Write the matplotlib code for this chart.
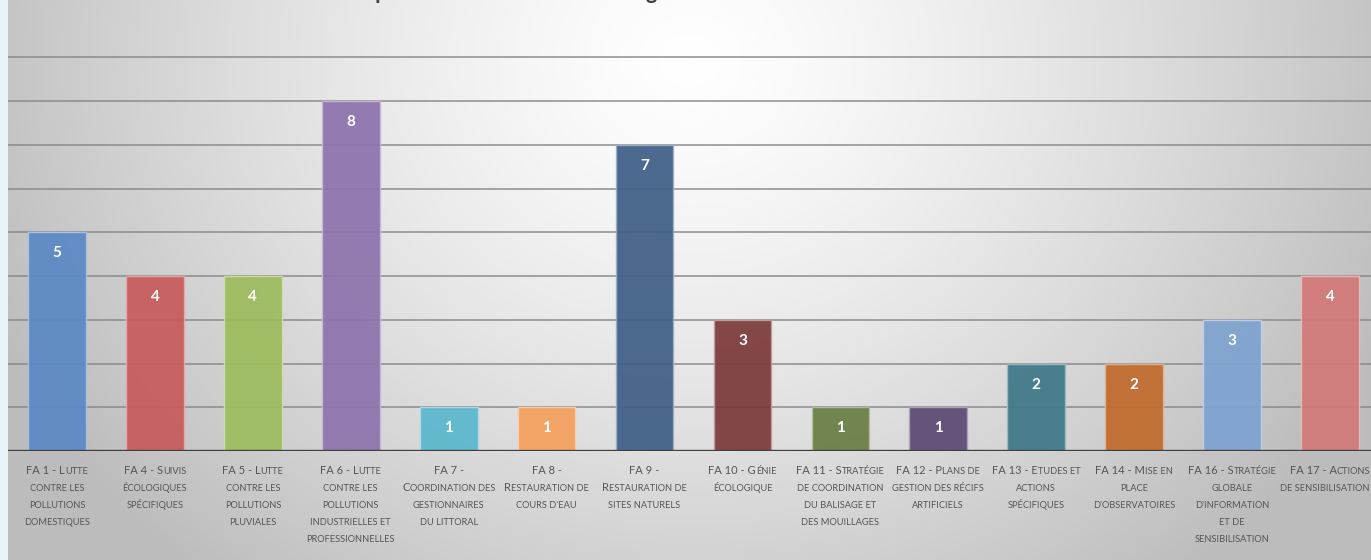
import numpy as np
import matplotlib
matplotlib.use("Agg")
import matplotlib.pyplot as plt
from matplotlib.transforms import IdentityTransform
from matplotlib.font_manager import FontProperties
import matplotlib.colors as mcolors

# ---------------- data ----------------
categories = [
    ["FA 1 - Lutte", "contre les", "pollutions", "domestiques"],
    ["FA 4 - Suivis", "écologiques", "spécifiques"],
    ["FA 5 - Lutte", "contre les", "pollutions", "pluviales"],
    ["FA 6 - Lutte", "contre les", "pollutions", "industrielles et", "professionnelles"],
    ["FA 7 -", "Coordination des", "gestionnaires", "du littoral"],
    ["FA 8 -", "Restauration de", "cours d'eau"],
    ["FA 9 -", "Restauration de", "sites naturels"],
    ["FA 10 - Génie", "écologique"],
    ["FA 11 - Stratégie", "de coordination", "du balisage et", "des mouillages"],
    ["FA 12 - Plans de", "gestion des récifs", "artificiels"],
    ["FA 13 - Etudes et", "actions", "spécifiques"],
    ["FA 14 - Mise en", "place", "d'observatoires"],
    ["FA 16 - Stratégie", "globale", "d'information", "et de", "sensibilisation"],
    ["FA 17 - Actions", "de sensibilisation"],
]
values = [5, 4, 4, 8, 1, 1, 7, 3, 1, 1, 2, 2, 3, 4]
colors = ["#5b89c4", "#c85b5b", "#9cbc5c", "#8d72ac", "#5ab7cc", "#f4a05e", "#3f5e87",
          "#7c3a3a", "#687e45", "#5c4a72", "#3e7888", "#c06a2b", "#7ea2cf", "#d27878"]
y_ticks = list(range(0, 10))
title = "Répartition des actions des usagers en 2017"

# ---------------- figure ----------------
W, H = 1371, 560
DPI = 100
fig = plt.figure(figsize=(W / DPI, H / DPI), dpi=DPI)
FONT = ["Lato", "DejaVu Sans"]

# background gradient
bg = fig.add_axes([0, 0, 1, 1], zorder=-10)
xx, yy = np.meshgrid(np.arange(W), np.arange(H))
r = np.sqrt(((xx - 690) / 720.0) ** 2 + ((yy - 60) / 640.0) ** 2)
g = np.clip(255 - 62 * r ** 1.3, 188, 255) / 255.0
img = np.dstack([g, g, g])
img[:, :8] = [0.91, 0.96, 0.97]
bg.imshow(img, aspect="auto", interpolation="bilinear")
bg.axis("off")

# main axes
ax_left, ax_right, ax_top, ax_bottom = 8, 1379, 56, 451
ax = fig.add_axes([ax_left / W, (H - ax_bottom) / H, (ax_right - ax_left) / W,
                   (ax_bottom - ax_top) / H])
ax.patch.set_alpha(0)
x = np.arange(len(values))
edge = [mcolors.to_rgba(np.array(mcolors.to_rgb(c)) * 0.5 + 0.5, 0.9) for c in colors]
ax.bar(x, values, width=0.59, color=colors, alpha=0.93, edgecolor=edge, linewidth=1.0, zorder=2)
ax.set_xlim(-0.5, len(values) - 0.5)
ax.set_ylim(0, 9.03)
ax.set_yticks(y_ticks)
ax.yaxis.grid(True, color="#858585", linewidth=1.2, alpha=0.85)
ax.set_axisbelow(True)
ax.tick_params(left=False, bottom=False, labelleft=False, labelbottom=False)
for s in ax.spines.values():
    s.set_visible(False)
ax.axhline(0, color="#3f3f3f", linewidth=2.4, zorder=3)

for xi, v in zip(x, values):
    ax.annotate(str(v), (xi, v), xytext=(0, -21), textcoords="offset pixels",
                ha="center", va="center", color="white", fontweight="bold",
                fontsize=11, family=FONT, zorder=4)

# title (mostly above the visible area, as in the reference)
fig.text(560 / W, 1.0 + 1.0 / H, title, ha="center", va="baseline", fontsize=15.5,
         fontweight="bold", color="#404040", family=FONT)

# small-caps category labels
renderer = fig.canvas.get_renderer()
prop_big = FontProperties(family=FONT, size=8.0)
prop_small = FontProperties(family=FONT, size=6.7)
label_color = "#555555"


def runs_of(line):
    runs = []
    cur_big = False
    for ch in line:
        if ch.isupper() or ch.isdigit():
            big = True
        elif ch.islower():
            big = False
        else:
            big = cur_big
        cur_big = big
        if runs and runs[-1][1] == big:
            runs[-1][0] += ch
        else:
            runs.append([ch, big])
    return [(t if b else t.upper(), b) for t, b in runs]


for xi, lines in zip(x, categories):
    cx = ax.transData.transform((xi, 0))[0]
    for k, line in enumerate(lines):
        base_y = H - (474 + 17 * k)
        runs = runs_of(line)
        widths = []
        for t, b in runs:
            w, h, d = renderer.get_text_width_height_descent(
                t, prop_big if b else prop_small, ismath=False)
            widths.append(w)
        total = sum(widths)
        start = min(cx - total / 2.0, W - 1 - total)
        for (t, b), w in zip(runs, widths):
            fig.text(start, base_y, t, transform=IdentityTransform(),
                     fontproperties=prop_big if b else prop_small,
                     ha="left", va="baseline", color=label_color)
            start += w

fig.savefig("out.png", dpi=DPI)
